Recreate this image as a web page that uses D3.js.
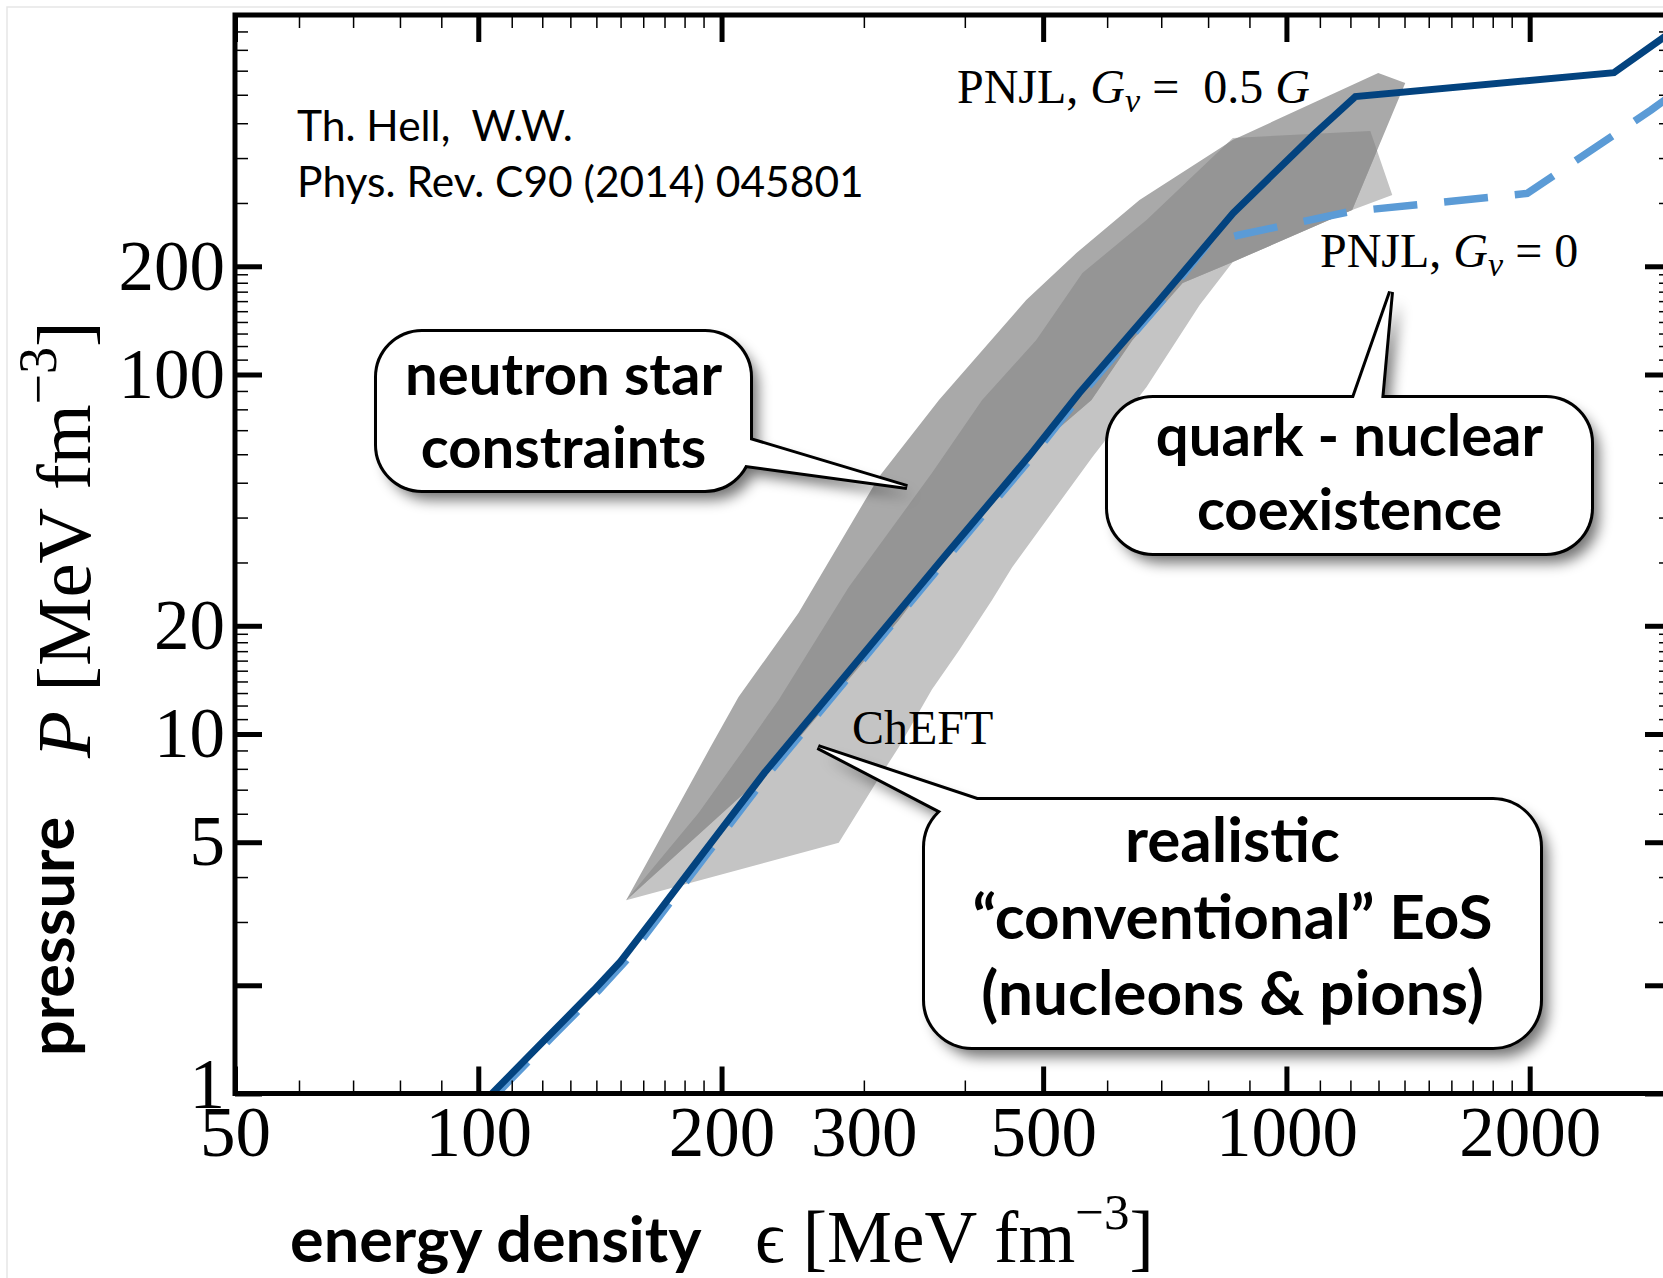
<!DOCTYPE html>
<html>
<head>
<meta charset="utf-8">
<script src="https://cdn.jsdelivr.net/npm/d3@7"></script>
<style>
body { margin: 0; background: #fff; }
svg { display: block; }
.serif { font-family: "Liberation Serif", "DejaVu Serif", serif; }
.sans { font-family: Lato, "Open Sans", sans-serif; }
</style>
</head>
<body>
<div id="chart"></div>
<script>

// tick values
var xMajorTicks = [50, 100, 200, 500, 1000, 2000];
var xTickLabels = [50, 100, 200, 300, 500, 1000, 2000];
var xMinorTicks = [60, 70, 80, 90, 110, 120, 130, 140, 150, 160, 170, 180, 190,
    300, 400, 600, 700, 800, 900, 1100, 1200, 1300, 1400, 1500, 1600, 1700, 1800, 1900];
var yMajorTicks = [1, 2, 5, 10, 20, 100, 200];
var yTickLabels = [1, 5, 10, 20, 100, 200];
var yMinorTicks = [3, 4, 6, 7, 8, 9, 11, 12, 13, 14, 15, 16, 17, 18, 19,
    30, 40, 50, 60, 70, 80, 90, 110, 120, 130, 140, 150, 160, 170, 180, 190,
    300, 400, 500, 600, 700, 800, 900];

// PNJL, Gv = 0.5 G  (energy density, pressure)
var gv05Energy = [104, 122, 139, 150, 165, 190, 226, 280, 379, 481, 554, 690, 859, 1080, 1217, 2543, 3000];
var gv05Pressure = [1.0, 1.44, 1.94, 2.33, 3.08, 4.68, 7.8, 13.9, 31.5, 59.5, 88.7, 157, 281, 464, 593, 691, 900];

// PNJL, Gv = 0
var gv0Energy = [105.5, 123.5, 141, 152, 167, 192.5, 229, 283.5, 383, 486, 559, 696, 800, 871, 1199, 1986, 2825, 3000];
var gv0Pressure = [1.0, 1.44, 1.94, 2.33, 3.08, 4.68, 7.8, 13.9, 31.5, 59.5, 88.7, 157, 231, 244, 284, 319, 544, 599];

// neutron star constraints band (outline)
var nsEnergy = [152.4, 178.4, 193.8, 209.9, 249, 313.1, 371.6, 476.5, 549.7, 658, 858.3, 1299, 1403,
    1206, 858.3, 744, 645, 573.8, 494.5, 428.6, 331.5, 235.3];
var nsPressure = [3.45, 6.55, 9.2, 12.67, 21.7, 51.9, 84.9, 161.2, 217.7, 305.8, 449.1, 690, 647,
    286.8, 205.6, 179.7, 124.7, 84.9, 63.7, 44.8, 20.75, 8.36];

// ChEFT band (outline)
var chEnergy = [152.4, 187.3, 212.9, 235.3, 287.3, 364.2, 420.2, 490.3, 559.2, 671.3, 858.3, 1270, 1352,
    1206, 858.3, 781, 671.3, 575.4, 457.8, 432.3, 393.6, 364.2, 331.5, 310.4, 279.3];
var chPressure = [3.45, 6.03, 9.03, 12.43, 25.6, 53.2, 84.9, 124.7, 191.6, 269, 454.9, 475.7, 315.7,
    286.8, 205.6, 156.1, 92.3, 59, 29.1, 23.6, 17.1, 13.3, 9.2, 7.31, 4.98];

// svg container
var width = 1663;
var height = 1278;

var svg = d3.select('#chart').append('svg')
    .attr('width', width)
    .attr('height', height);

var defs = svg.append('defs');

// scales
var xScale = d3.scaleLog().domain([50, 3000]).range([235, 1672]);
var yScale = d3.scaleLog().domain([1, 1000]).range([1093.5, 15]);

defs.append('clipPath').attr('id', 'plotClip')
  .append('rect')
    .attr('x', 235).attr('y', 15)
    .attr('width', 1672 - 235).attr('height', 1093.5 - 15);

var zip = (a, b) => a.map((v, i) => [v, b[i]]);
var line = d3.line().x(d => xScale(d[0])).y(d => yScale(d[1]));

var nsBand = zip(nsEnergy, nsPressure);
var chBand = zip(chEnergy, chPressure);

defs.append('clipPath').attr('id', 'chClip')
  .append('path').attr('d', line(chBand) + 'Z');

// faint page border
svg.append('path').attr('d', 'M7,1278V7H1663')
    .attr('fill', 'none').attr('stroke', '#e6e6e6').attr('stroke-width', 1.5);

var plot = svg.append('g').attr('clip-path', 'url(#plotClip)');

// bands
plot.append('path').attr('d', line(chBand) + 'Z').attr('fill', '#c4c4c4');
plot.append('path').attr('d', line(nsBand) + 'Z').attr('fill', '#a9a9a9');
plot.append('g').attr('clip-path', 'url(#chClip)')
  .append('path').attr('d', line(nsBand) + 'Z').attr('fill', '#959595');

// curves
plot.append('path')
    .attr('d', line(zip(gv0Energy, gv0Pressure)))
    .attr('fill', 'none')
    .attr('stroke', '#5b9bd6')
    .attr('stroke-width', 7.5)
    .attr('stroke-dasharray', '44,27');

plot.append('path')
    .attr('d', line(zip(gv05Energy, gv05Pressure)))
    .attr('fill', 'none')
    .attr('stroke', '#03437f')
    .attr('stroke-width', 7)
    .attr('stroke-linejoin', 'miter');

// ticks
function ticks(axisFn, scale, values, size, pos, w) {
    svg.append('g')
        .attr('transform', pos)
        .call(axisFn(scale).tickValues(values).tickSize(size).tickFormat(''))
        .call(g => g.select('.domain').remove())
        .selectAll('line').attr('stroke', '#000').attr('stroke-width', w);
}
ticks(d3.axisBottom, xScale, xMajorTicks, -27, 'translate(0,1093.5)', 5);
ticks(d3.axisBottom, xScale, xMinorTicks, -13, 'translate(0,1093.5)', 1.5);
ticks(d3.axisTop, xScale, xMajorTicks, -27, 'translate(0,15)', 5);
ticks(d3.axisTop, xScale, xMinorTicks, -13, 'translate(0,15)', 1.5);
ticks(d3.axisLeft, yScale, yMajorTicks, -27, 'translate(235,0)', 5);
ticks(d3.axisLeft, yScale, yMinorTicks, -13, 'translate(235,0)', 1.5);
ticks(d3.axisRight, yScale, yMajorTicks, -27, 'translate(1672,0)', 5);
ticks(d3.axisRight, yScale, yMinorTicks, -13, 'translate(1672,0)', 1.5);

// frame
svg.append('rect')
    .attr('x', 235).attr('y', 15)
    .attr('width', 1672 - 235).attr('height', 1093.5 - 15)
    .attr('fill', 'none').attr('stroke', '#000').attr('stroke-width', 5);

// tick labels
var xLabels = svg.append('g')
    .attr('transform', 'translate(0,1093.5)')
    .call(d3.axisBottom(xScale).tickValues(xTickLabels).tickSize(0).tickPadding(12).tickFormat(d3.format('d')));
xLabels.select('.domain').remove();
xLabels.selectAll('text').attr('class', 'serif').style('font-size', '71px').attr('fill', '#000');

var yLabels = svg.append('g')
    .attr('transform', 'translate(235,0)')
    .call(d3.axisLeft(yScale).tickValues(yTickLabels).tickSize(0).tickPadding(10).tickFormat(d3.format('d')));
yLabels.select('.domain').remove();
yLabels.selectAll('text').attr('class', 'serif').style('font-size', '71px').attr('fill', '#000');
// the "1" sits a little above its tick, as in the original
yLabels.selectAll('text').filter(d => d === 1).attr('dy', '0.2em');

// axis titles
svg.append('text')
    .attr('class', 'sans')
    .attr('x', 290).attr('y', 1262)
    .style('font-size', '63px').style('font-weight', 700)
    .text('energy density');

var xt = svg.append('text')
    .attr('class', 'serif')
    .attr('x', 755).attr('y', 1262)
    .style('font-size', '73px');
xt.append('tspan').text('\u03f5 [MeV fm');
xt.append('tspan').attr('dy', -33).style('font-size', '51px').text('\u22123');
xt.append('tspan').attr('dy', 33).text(']');

svg.append('text')
    .attr('class', 'sans')
    .attr('transform', 'translate(74,1056) rotate(-90)')
    .style('font-size', '63px').style('font-weight', 700)
    .text('pressure');

var yt = svg.append('text')
    .attr('class', 'serif')
    .attr('transform', 'translate(90,758) rotate(-90)')
    .style('font-size', '77px');
yt.append('tspan').style('font-style', 'italic').text('P');
yt.append('tspan').text(' [MeV fm');
yt.append('tspan').attr('dy', -34).style('font-size', '54px').text('\u22123');
yt.append('tspan').attr('dy', 34).text(']');

// reference
svg.append('text').attr('class', 'sans')
    .attr('x', 297).attr('y', 141).style('font-size', '42.5px').style('white-space', 'pre')
    .text('Th. Hell,  W.W.');
svg.append('text').attr('class', 'sans')
    .attr('x', 297).attr('y', 197).style('font-size', '42.5px')
    .text('Phys. Rev. C90 (2014) 045801');

// curve labels
var n1 = svg.append('text').attr('class', 'serif')
    .attr('x', 957).attr('y', 103)
    .style('font-size', '48px').style('white-space', 'pre');
n1.append('tspan').text('PNJL, ');
n1.append('tspan').style('font-style', 'italic').text('G');
n1.append('tspan').style('font-style', 'italic').style('font-size', '34px').attr('dy', 9).text('v');
n1.append('tspan').attr('dy', -9).text(' =  0.5 ');
n1.append('tspan').style('font-style', 'italic').text('G');

var n2 = svg.append('text').attr('class', 'serif')
    .attr('x', 1320).attr('y', 267)
    .style('font-size', '48px').style('white-space', 'pre');
n2.append('tspan').text('PNJL, ');
n2.append('tspan').style('font-style', 'italic').text('G');
n2.append('tspan').style('font-style', 'italic').style('font-size', '34px').attr('dy', 9).text('v');
n2.append('tspan').attr('dy', -9).text(' = 0');

svg.append('text').attr('class', 'serif')
    .attr('x', 852).attr('y', 744)
    .style('font-size', '48px')
    .text('ChEFT');

// callouts
var filter = defs.append('filter').attr('id', 'shadow')
    .attr('x', '-20%').attr('y', '-30%').attr('width', '150%').attr('height', '180%');
filter.append('feGaussianBlur').attr('in', 'SourceAlpha').attr('stdDeviation', 7);
filter.append('feOffset').attr('dx', 8).attr('dy', 10).attr('result', 'blur');
filter.append('feComponentTransfer')
  .append('feFuncA').attr('type', 'linear').attr('slope', 0.55);

function callout(box, pointer, lines, size) {
    var g = svg.append('g');
    var shapes = function (sel) {
        sel.append('rect')
            .attr('x', box.x).attr('y', box.y)
            .attr('width', box.w).attr('height', box.h)
            .attr('rx', box.r);
        sel.append('path').attr('d', 'M' + pointer.join('L') + 'Z');
    };
    g.append('g').attr('filter', 'url(#shadow)').call(shapes);
    g.append('g').attr('fill', 'none').attr('stroke', '#000')
        .attr('stroke-width', 6).attr('stroke-linejoin', 'miter').call(shapes);
    g.append('g').attr('fill', '#fff').call(shapes);
    lines.forEach(function (l) {
        g.append('text').attr('class', 'sans')
            .attr('x', box.x + box.w / 2).attr('y', l[1])
            .attr('text-anchor', 'middle')
            .style('font-size', size + 'px').style('font-weight', 700)
            .text(l[0]);
    });
}

callout({x: 377, y: 332, w: 373, h: 158, r: 45},
    [[730, 434], [907, 487], [723, 462]],
    [['neutron star', 395], ['constraints', 468]], 58);

callout({x: 1108, y: 398, w: 483, h: 155, r: 45},
    [[1349, 412], [1391, 292], [1380, 412]],
    [['quark - nuclear', 456], ['coexistence', 530]], 58);

callout({x: 925, y: 800, w: 615, h: 247, r: 47},
    [[960, 821], [818, 747], [998, 807]],
    [['realistic', 862], ['\u201cconventional\u201d EoS', 939], ['(nucleons & pions)', 1015]], 62);

</script>
</body>
</html>
